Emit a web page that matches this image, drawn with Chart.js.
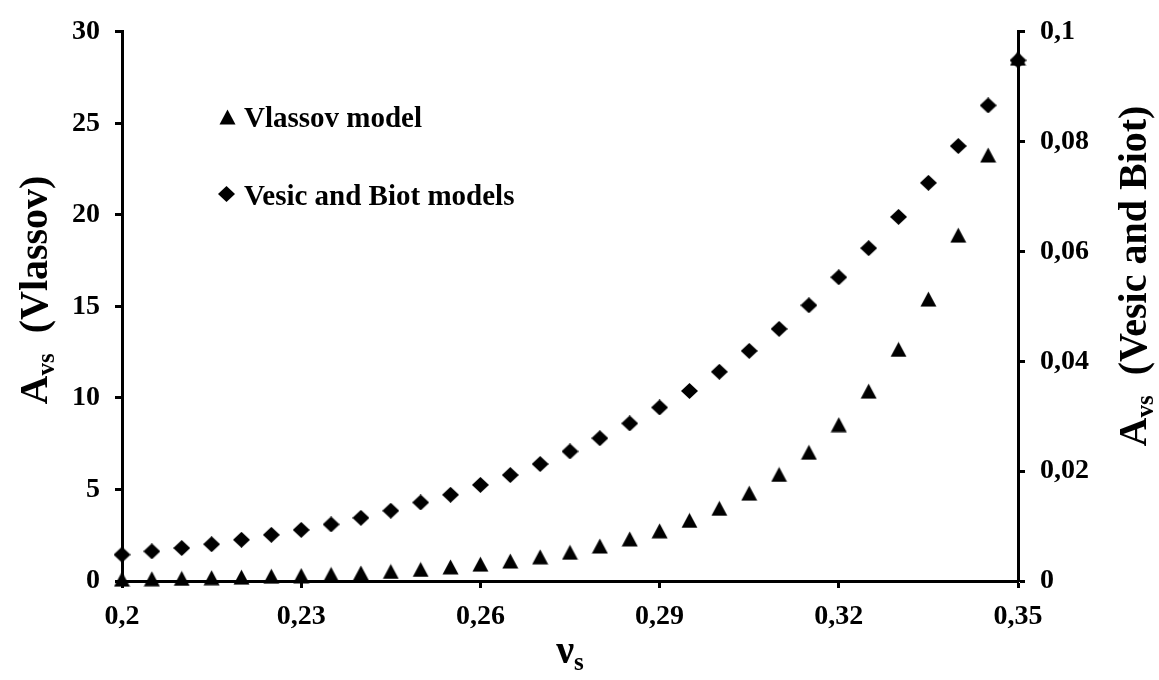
<!DOCTYPE html>
<html>
<head>
<meta charset="utf-8">
<script src="https://cdn.jsdelivr.net/npm/chart.js@4/dist/chart.umd.min.js"></script>
<style>
  html, body { margin: 0; padding: 0; background: #fff; }
  #wrap { width: 1159px; height: 680px; position: relative; }
</style>
</head>
<body>
<div id="wrap"><canvas id="chart"></canvas></div>
<script>
// values
const nuValues = [0.2, 0.205, 0.21, 0.215, 0.22, 0.225, 0.23, 0.235, 0.24, 0.245,
                  0.25, 0.255, 0.26, 0.265, 0.27, 0.275, 0.28, 0.285, 0.29, 0.295,
                  0.3, 0.305, 0.31, 0.315, 0.32, 0.325, 0.33, 0.335, 0.34, 0.345, 0.35];
const vlassovValues = [0.10, 0.12, 0.14, 0.18, 0.21, 0.26, 0.30, 0.36, 0.44, 0.52,
                       0.63, 0.77, 0.92, 1.09, 1.32, 1.57, 1.91, 2.30, 2.74, 3.31,
                       3.97, 4.80, 5.82, 7.03, 8.54, 10.37, 12.65, 15.40, 18.89, 23.27, 28.56];
const vesicBiotValues = [0.0048, 0.0054, 0.0060, 0.0067, 0.0075, 0.0084, 0.0093, 0.0103, 0.0115, 0.0128,
                         0.0143, 0.0157, 0.0175, 0.0193, 0.0213, 0.0236, 0.0260, 0.0287, 0.0316, 0.0346,
                         0.0381, 0.0419, 0.0459, 0.0502, 0.0553, 0.0606, 0.0663, 0.0725, 0.0792, 0.0866, 0.0948];
const seriesNames = ['Vlassov model', 'Vesic and Biot models'];
const leftTitle = ['A', 'vs', '  (Vlassov)'];
const rightTitle = ['A', 'vs', '  (Vesic and Biot)'];
const bottomTitle = ['\u03bd', 's'];

const FONT = "'Liberation Serif', 'Times New Roman', serif";

function makeMarker(kind) {
    const c = document.createElement('canvas');
    c.width = 17;
    c.height = 16;
    const g = c.getContext('2d');
    g.fillStyle = '#000';
    g.beginPath();
    if (kind === 'tri') {
        g.moveTo(8.5, 0.5);
        g.lineTo(16.5, 15.5);
        g.lineTo(0.5, 15.5);
    } else {
        g.moveTo(8.5, 0);
        g.lineTo(17, 8);
        g.lineTo(8.5, 16);
        g.lineTo(0, 8);
    }
    g.closePath();
    g.fill();
    return c;
}
const triMarker = makeMarker('tri');
const diaMarker = makeMarker('dia');

function fmt(v) {
    return String(parseFloat(v.toFixed(3))).replace('.', ',');
}

// text with a subscript, centered on (x, y), optionally rotated
function drawSubText(ctx, parts, x, y, size, rot) {
    const subSize = Math.round(size * 0.62);
    ctx.save();
    ctx.translate(x, y);
    ctx.rotate(rot);
    ctx.fillStyle = '#000';
    ctx.textBaseline = 'alphabetic';
    ctx.textAlign = 'left';
    const big = 'bold ' + size + 'px ' + FONT;
    const small = 'bold ' + subSize + 'px ' + FONT;
    ctx.font = big;
    const w0 = ctx.measureText(parts[0]).width;
    const w2 = parts[2] ? ctx.measureText(parts[2]).width : 0;
    ctx.font = small;
    const w1 = ctx.measureText(parts[1]).width;
    let cx = -(w0 + w1 + w2) / 2;
    const base = size * 0.33;
    ctx.font = big;
    ctx.fillText(parts[0], cx, base);
    cx += w0;
    ctx.font = small;
    ctx.fillText(parts[1], cx, base + size * 0.18);
    cx += w1;
    if (parts[2]) {
        ctx.font = big;
        ctx.fillText(parts[2], cx, base);
    }
    ctx.restore();
}

const decorPlugin = {
    id: 'decor',
    afterDraw(chart) {
        const ctx = chart.ctx;
        const a = chart.chartArea;
        // legend inside the plot
        ctx.save();
        ctx.drawImage(triMarker, 219, 109);
        ctx.drawImage(diaMarker, 218, 186);
        ctx.fillStyle = '#000';
        ctx.font = 'bold 29px ' + FONT;
        ctx.textBaseline = 'alphabetic';
        ctx.fillText(seriesNames[0], 244, 127);
        ctx.fillText(seriesNames[1], 244, 205);
        ctx.restore();
        // axis titles
        drawSubText(ctx, leftTitle, 34, 290, 40, -Math.PI / 2);
        drawSubText(ctx, rightTitle, 1133, 276, 40, -Math.PI / 2);
        drawSubText(ctx, bottomTitle, (a.left + a.right) / 2, 650, 40, 0);
    }
};

const tickFont = { family: FONT, size: 28, weight: 'bold' };

const ctx = document.getElementById('chart').getContext('2d');
const chart = new Chart(ctx, {
    type: 'scatter',
    data: {
        datasets: [{
            label: seriesNames[0],
            data: nuValues.map((x, i) => ({ x: x, y: vlassovValues[i] })),
            yAxisID: 'yLeft',
            pointStyle: triMarker,
            backgroundColor: '#000',
            borderColor: '#000',
            clip: false
        }, {
            label: seriesNames[1],
            data: nuValues.map((x, i) => ({ x: x, y: vesicBiotValues[i] })),
            yAxisID: 'yRight',
            pointStyle: diaMarker,
            backgroundColor: '#000',
            borderColor: '#000',
            clip: false
        }]
    },
    options: {
        responsive: true,
        maintainAspectRatio: false,
        animation: false,
        layout: { padding: { top: 20, left: 0, right: 0, bottom: 0 } },
        plugins: {
            legend: { display: false },
            tooltip: { enabled: false }
        },
        scales: {
            x: {
                type: 'linear',
                min: 0.2,
                max: 0.35,
                ticks: {
                    stepSize: 0.03,
                    color: '#000',
                    font: tickFont,
                    padding: 12,
                    callback: v => fmt(v)
                },
                grid: { drawOnChartArea: false, tickLength: 7, tickWidth: 3, color: '#000' },
                border: { display: true, width: 3, color: '#000' },
                afterFit: s => { s.height = 99; }
            },
            yLeft: {
                position: 'left',
                min: 0,
                max: 30,
                ticks: {
                    stepSize: 5,
                    color: '#000',
                    font: tickFont,
                    padding: 15
                },
                grid: { drawOnChartArea: false, tickLength: 7, tickWidth: 3, color: '#000' },
                border: { display: true, width: 3, color: '#000' },
                afterFit: s => { s.width = 122; }
            },
            yRight: {
                position: 'right',
                min: 0,
                max: 0.1,
                ticks: {
                    stepSize: 0.02,
                    color: '#000',
                    font: tickFont,
                    padding: 15,
                    callback: v => fmt(v)
                },
                grid: { drawOnChartArea: false, tickLength: 7, tickWidth: 3, color: '#000' },
                border: { display: true, width: 3, color: '#000' },
                afterFit: s => { s.width = 141; }
            }
        }
    },
    plugins: [decorPlugin]
});
</script>
</body>
</html>
